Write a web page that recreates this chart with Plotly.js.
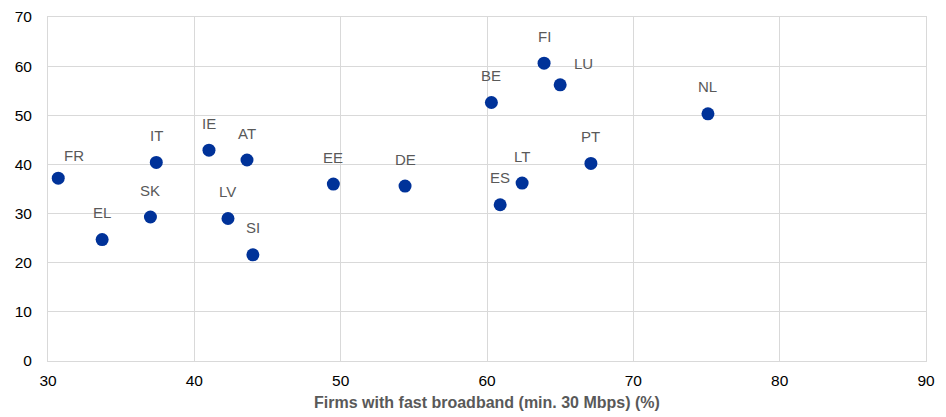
<!DOCTYPE html>
<html>
<head>
<meta charset="utf-8">
<script src="https://cdn.plot.ly/plotly-3.0.1.min.js"></script>
<style>html,body{margin:0;padding:0;background:#fff;}#chart{width:946px;height:417px;}</style>
</head>
<body>
<div id="chart"></div>
<script>
const countries = ["FR","EL","SK","IT","IE","AT","LV","SI","EE","DE","BE","ES","LT","FI","LU","PT","NL"];
const fastBroadband = [30.7,33.7,37.0,37.4,41.0,43.6,42.3,44.0,49.5,54.4,60.3,60.9,62.4,63.9,65.0,67.1,75.1];
const yValues = [37.2,24.7,29.3,40.4,42.9,40.9,29.0,21.6,36.0,35.6,52.6,31.8,36.2,60.6,56.2,40.2,50.3];
const xTickVals = [30,40,50,60,70,80,90];
const yTickVals = [0,10,20,30,40,50,60,70];
const xTitle = "Firms with fast broadband (min. 30 Mbps) (%)";

// label placement (styling)
const labelShift = {FR:[16,23], LU:[23,21]};

const annotations = countries.map((c,i)=>{
  const s = labelShift[c] || [0,27];
  return {x: fastBroadband[i], y: yValues[i], xref:'x', yref:'y', text: c, showarrow:false,
    xshift: s[0], yshift: s[1], font:{family:'Liberation Sans, Arial, sans-serif', size:15, color:'#595959'}};
});

const trace = {
  x: fastBroadband, y: yValues, text: countries, mode:'markers', type:'scatter',
  marker:{color:'#003299', size:13},
  hoverinfo:'text+x+y'
};

const layout = {
  width:946, height:417,
  margin:{l:48, r:20, t:17, b:56},
  paper_bgcolor:'#fff', plot_bgcolor:'#fff',
  showlegend:false,
  font:{family:'Liberation Sans, Arial, sans-serif', size:15, color:'#000'},
  xaxis:{range:[30,90], tickvals:xTickVals, ticktext:xTickVals.map(String), showgrid:true, gridcolor:'#d9d9d9',
    showline:true, linecolor:'#d9d9d9', mirror:true, zeroline:false, ticks:'', ticklabelstandoff:5,
    tickfont:{size:15.5,color:'#000'},
    title:{text:'<b>'+xTitle+'</b>', font:{size:16,color:'#595959'}, standoff:9}},
  yaxis:{range:[0,70], tickvals:yTickVals, ticktext:yTickVals.map(String), showgrid:true, gridcolor:'#d9d9d9',
    showline:true, linecolor:'#d9d9d9', mirror:true, zeroline:false, ticks:'', ticklabelstandoff:12,
    tickfont:{size:15.5,color:'#000'}},
  annotations: annotations
};

Plotly.newPlot('chart',[trace],layout,{displayModeBar:false, staticPlot:true});
</script>
</body>
</html>
